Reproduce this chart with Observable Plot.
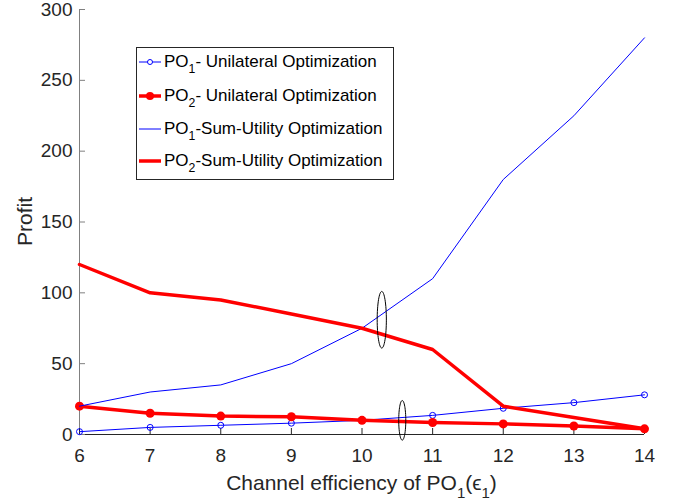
<!DOCTYPE html>
<html><head><meta charset="utf-8">
<script src="https://cdn.jsdelivr.net/npm/d3@7"></script>
<script src="https://cdn.jsdelivr.net/npm/@observablehq/plot@0.6"></script>
<style>
body{margin:0;background:#fff;font-family:"Liberation Sans",Arial,sans-serif;}
#wrap{position:relative;width:681px;height:503px;}
#legend{position:absolute;left:136px;top:47px;width:258px;height:133px;box-sizing:border-box;border:1px solid #262626;background:#fff;font-size:17px;color:#000;}
.row{position:absolute;left:1px;height:22px;display:flex;align-items:center;white-space:nowrap;}
.row svg{width:24px;height:22px;margin-right:2px;}
.sub{font-size:0.72em;position:relative;top:0.45em;}
</style>
</head><body>
<div id="wrap"><div id="chart"></div><div id="legend"></div></div>
<script>
const eff = [6, 7, 8, 9, 10, 11, 12, 13, 14];
const po1Unilateral = [2, 5, 6.5, 8, 10, 13.5, 18.5, 22.5, 28];
const po2Unilateral = [20, 15, 13, 12.5, 10, 8.5, 7.5, 6, 4];
const po1SumUtility = [20, 30, 35, 50, 75, 110, 180, 225, 280];
const po2SumUtility = [120, 100, 95, 85, 75, 60, 20, 12, 4];
const xTicks = [6, 7, 8, 9, 10, 11, 12, 13, 14];
const yTicks = [0, 50, 100, 150, 200, 250, 300];
const seriesNames = ["- Unilateral Optimization", "- Unilateral Optimization", "-Sum-Utility Optimization", "-Sum-Utility Optimization"];
// annotation ellipses: center (data units) and radii (data units)
const ellipses = [
  {cx: 10.28, cy: 81, rx: 0.065, ry: 20},
  {cx: 10.57, cy: 10, rx: 0.05, ry: 14}
];

const W = 681, H = 503, mL = 79, mR = 37, mT = 9, mB = 69;
const tickLen = 6;
const toRows = (ys) => eff.map((x, i) => ({x, y: ys[i]}));
const ellipsePts = ellipses.flatMap((e, k) => d3.range(0, 64).map(j => {
  const t = j / 64 * 2 * Math.PI;
  return {k, x: e.cx + e.rx * Math.cos(t), y: e.cy + e.ry * Math.sin(t)};
}));

const plot = Plot.plot({
  width: W, height: H,
  marginLeft: mL, marginRight: mR, marginTop: mT, marginBottom: mB,
  style: {fontFamily: "Liberation Sans, Arial, sans-serif", fontSize: "19px", color: "#262626", background: "#fff"},
  x: {domain: [6, 14]},
  y: {domain: [0, 300]},
  marks: [
    Plot.axisX({ticks: xTicks, tickSize: 0, tickPadding: 14, label: null, fill: "#262626"}),
    Plot.axisY({ticks: yTicks, tickSize: 0, tickPadding: 7, label: null, fill: "#262626"}),
    Plot.ruleX([6], {stroke: "#808080", strokeWidth: 1}),
    Plot.ruleY([0], {stroke: "#262626", strokeWidth: 1}),
    Plot.tickX(xTicks, {x: d => d, insetTop: H - mT - mB - tickLen, stroke: "#262626"}),
    Plot.tickY(yTicks, {y: d => d, insetRight: W - mL - mR - tickLen, stroke: "#808080"}),
    Plot.line(toRows(po1Unilateral), {x: "x", y: "y", stroke: "#0000ff", strokeWidth: 1}),
    Plot.dot(toRows(po1Unilateral), {x: "x", y: "y", r: 3, stroke: "#0000ff", strokeWidth: 1, fill: "none"}),
    Plot.line(toRows(po2Unilateral), {x: "x", y: "y", stroke: "#ff0000", strokeWidth: 3.5}),
    Plot.dot(toRows(po2Unilateral), {x: "x", y: "y", r: 4.5, fill: "#ff0000", stroke: "none"}),
    Plot.line(toRows(po1SumUtility), {x: "x", y: "y", stroke: "#0000ff", strokeWidth: 1}),
    Plot.line(toRows(po2SumUtility), {x: "x", y: "y", stroke: "#ff0000", strokeWidth: 3.5}),
    Plot.line(ellipsePts, {x: "x", y: "y", z: "k", curve: "linear-closed", stroke: "#000", strokeWidth: 1})
  ]
});
document.getElementById("chart").append(plot);

const svg = d3.select(plot);
const xl = svg.append("text").attr("x", (mL + W - mR) / 2).attr("y", 490)
  .attr("text-anchor", "middle").attr("font-size", 21).attr("fill", "#262626");
xl.append("tspan").text("Channel efficiency of PO");
xl.append("tspan").attr("font-size", 15).attr("dy", 8).text("1");
xl.append("tspan").attr("dy", -8).text("(");
xl.append("tspan").text("\u03F5");
xl.append("tspan").attr("font-size", 15).attr("dy", 8).text("1");
xl.append("tspan").attr("dy", -8).text(")");
svg.append("text").attr("transform", `translate(32,${(mT + H - mB) / 2}) rotate(-90)`)
  .attr("text-anchor", "middle").attr("font-size", 21).attr("fill", "#262626").text("Profit");

// legend
const legendSpec = [
  {po: "2".replace("2", "1"), color: "#0000ff", w: 1, marker: "open"},
  {po: "2", color: "#ff0000", w: 3.5, marker: "filled"},
  {po: "1", color: "#0000ff", w: 1, marker: null},
  {po: "2", color: "#ff0000", w: 3.5, marker: null}
];
const rowTops = [3, 37, 70, 102];
const leg = d3.select("#legend");
legendSpec.forEach((s, i) => {
  const row = leg.append("div").attr("class", "row").style("top", rowTops[i] + "px");
  const sv = row.append("svg");
  sv.append("line").attr("x1", 1).attr("x2", 23).attr("y1", 11).attr("y2", 11)
    .attr("stroke", s.color).attr("stroke-width", s.w);
  if (s.marker === "open") sv.append("circle").attr("cx", 12).attr("cy", 11).attr("r", 2.5).attr("fill", "#fff").attr("stroke", s.color);
  if (s.marker === "filled") sv.append("circle").attr("cx", 12).attr("cy", 11).attr("r", 4).attr("fill", s.color);
  const t = row.append("span");
  t.append("span").text("PO");
  t.append("span").attr("class", "sub").text(s.po);
  t.append("span").text(seriesNames[i]);
});
</script>
</body></html>
